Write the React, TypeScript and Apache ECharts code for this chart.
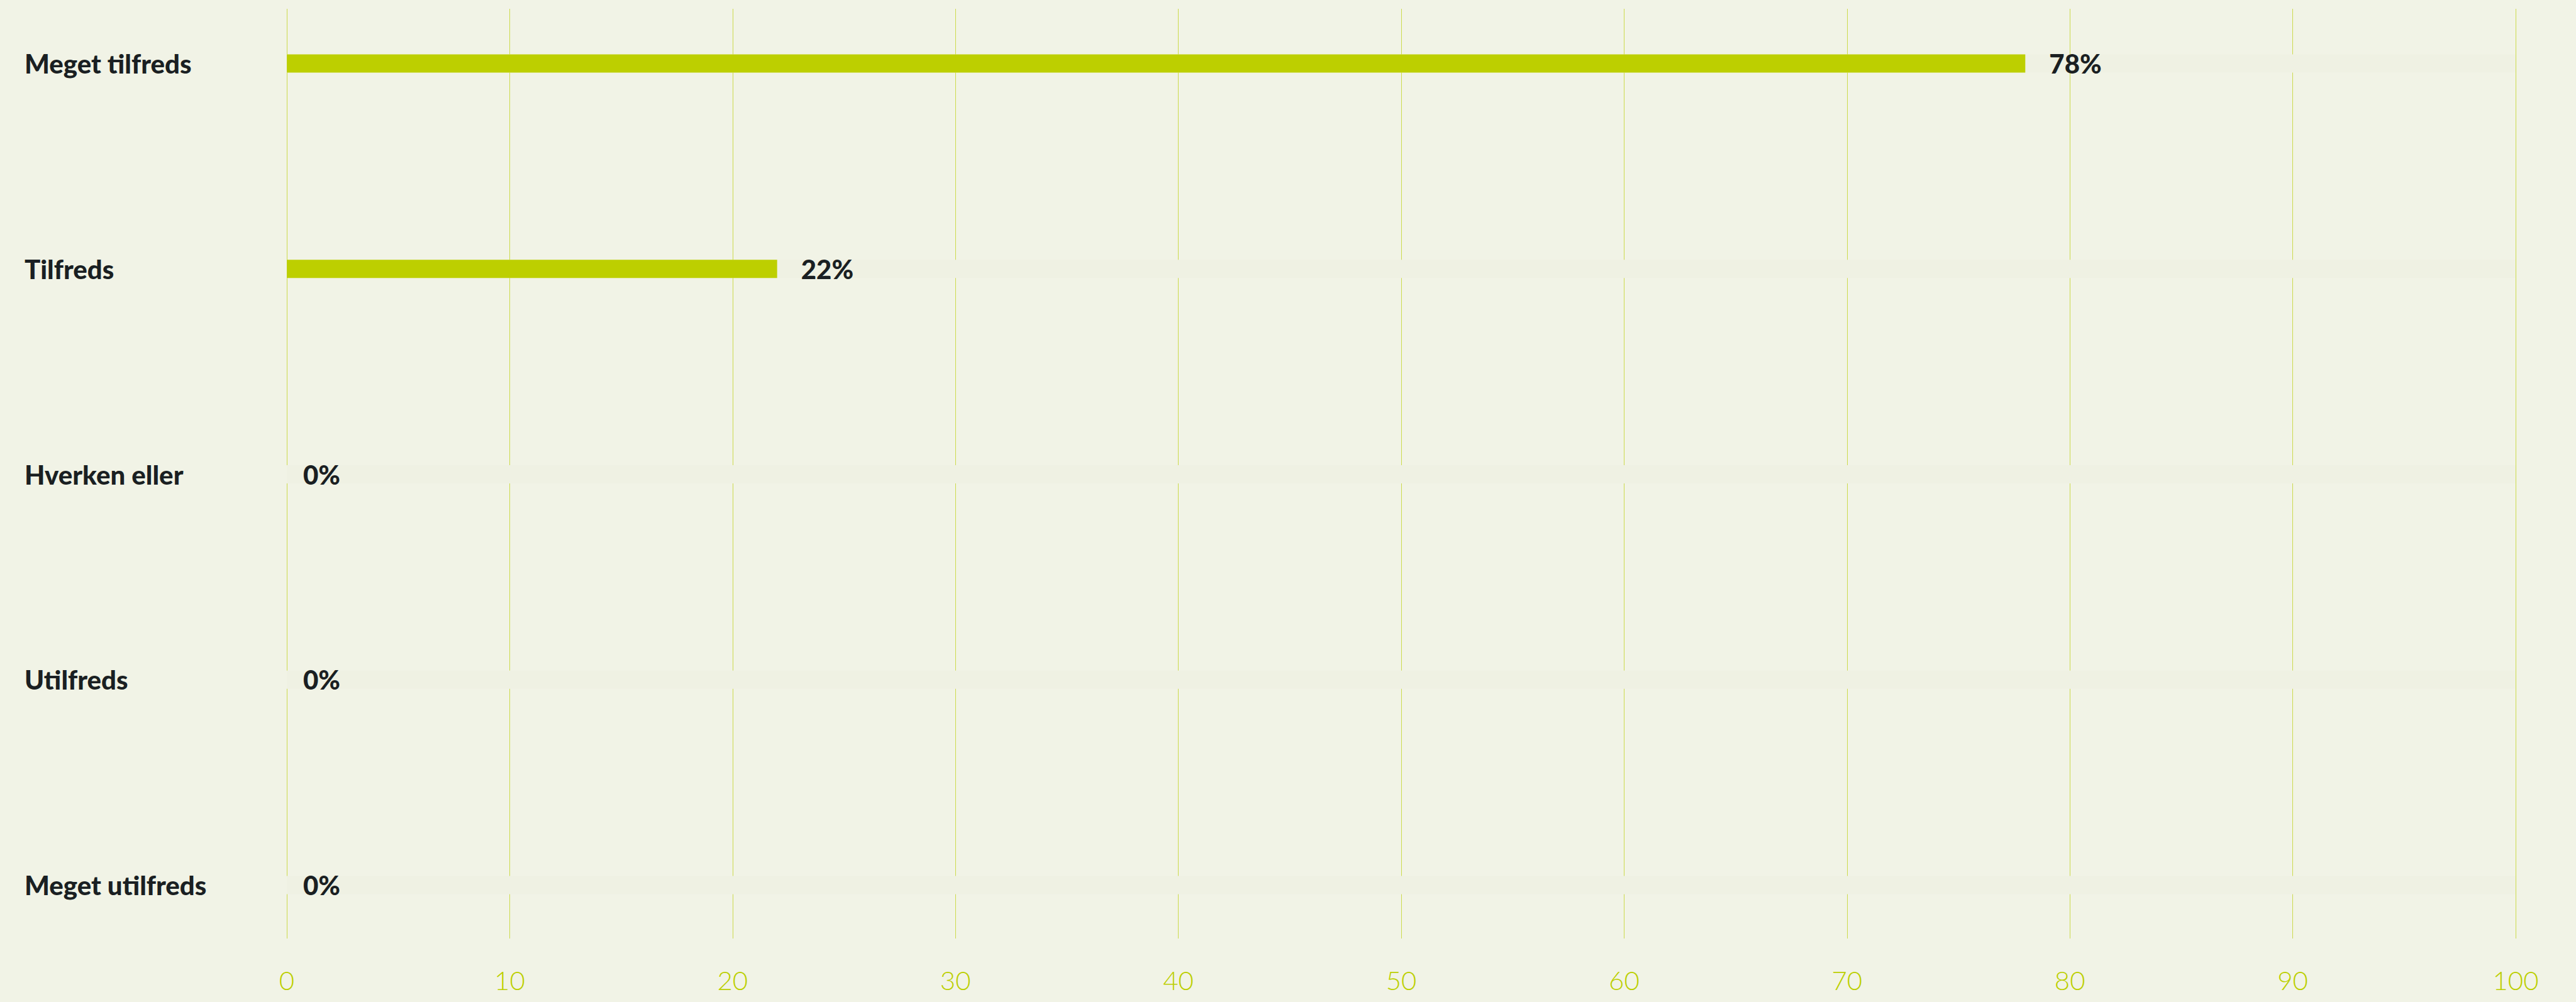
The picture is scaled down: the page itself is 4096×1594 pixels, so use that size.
import React, { useEffect, useRef } from "react";
import * as echarts from "echarts";

const categories = ["Meget tilfreds", "Tilfreds", "Hverken eller", "Utilfreds", "Meget utilfreds"];
const values = [78, 22, 0, 0, 0];
const xTicks = [0, 10, 20, 30, 40, 50, 60, 70, 80, 90, 100];

const BG = "#f1f3e6";
const LIME = "#bdcf00";
const DARK = "#1a1f22";

export default function App() {
  const ref = useRef<HTMLDivElement>(null);
  useEffect(() => {
    if (!ref.current) return;
    const chart = echarts.init(ref.current, undefined, { renderer: "svg" });
    chart.setOption({
      animation: false,
      backgroundColor: BG,
      grid: [
        { left: 456, right: 96, top: 101, bottom: 186, containLabel: false },
        { left: 456, right: 96, top: 14, bottom: 101, containLabel: false },
      ],
      xAxis: [
        { type: "value", gridIndex: 0, min: xTicks[0], max: xTicks[xTicks.length - 1], interval: 10, show: false },
        {
          type: "value",
          gridIndex: 1,
          min: xTicks[0],
          max: xTicks[xTicks.length - 1],
          interval: 10,
          axisLine: { show: false },
          axisTick: { show: false },
          splitLine: { show: true, lineStyle: { color: "#ccda4c", width: 1 } },
          axisLabel: {
            color: "#bccf00",
            fontFamily: "Lato",
            fontWeight: 300,
            fontSize: 42,
            margin: 45,
          },
        },
      ],
      yAxis: [
        {
          type: "category",
          gridIndex: 0,
          data: categories,
          inverse: true,
          boundaryGap: false,
          axisLine: { show: false },
          axisTick: { show: false },
          splitLine: { show: false },
          axisLabel: {
            align: "left",
            margin: 417,
            color: DARK,
            fontFamily: "Lato",
            fontWeight: 900,
            fontSize: 42,
          },
        },
        { type: "value", gridIndex: 1, show: false },
      ],
      series: [
        {
          type: "bar",
          xAxisIndex: 0,
          yAxisIndex: 0,
          barWidth: 29,
          data: values.map((v) => ({
            value: v,
            label: { distance: v === 0 ? 26 : 38 },
          })),
          itemStyle: { color: LIME },
          showBackground: true,
          backgroundStyle: { color: "#eff1e3" },
          label: {
            show: true,
            position: "right",
            formatter: "{c}%",
            color: DARK,
            fontFamily: "Lato",
            fontWeight: 900,
            fontSize: 42,
          },
        },
      ],
    });
    return () => chart.dispose();
  }, []);
  return (
    <div
      ref={ref}
      style={{ position: "fixed", left: 0, top: 0, width: 4096, height: 1594 }}
    />
  );
}
